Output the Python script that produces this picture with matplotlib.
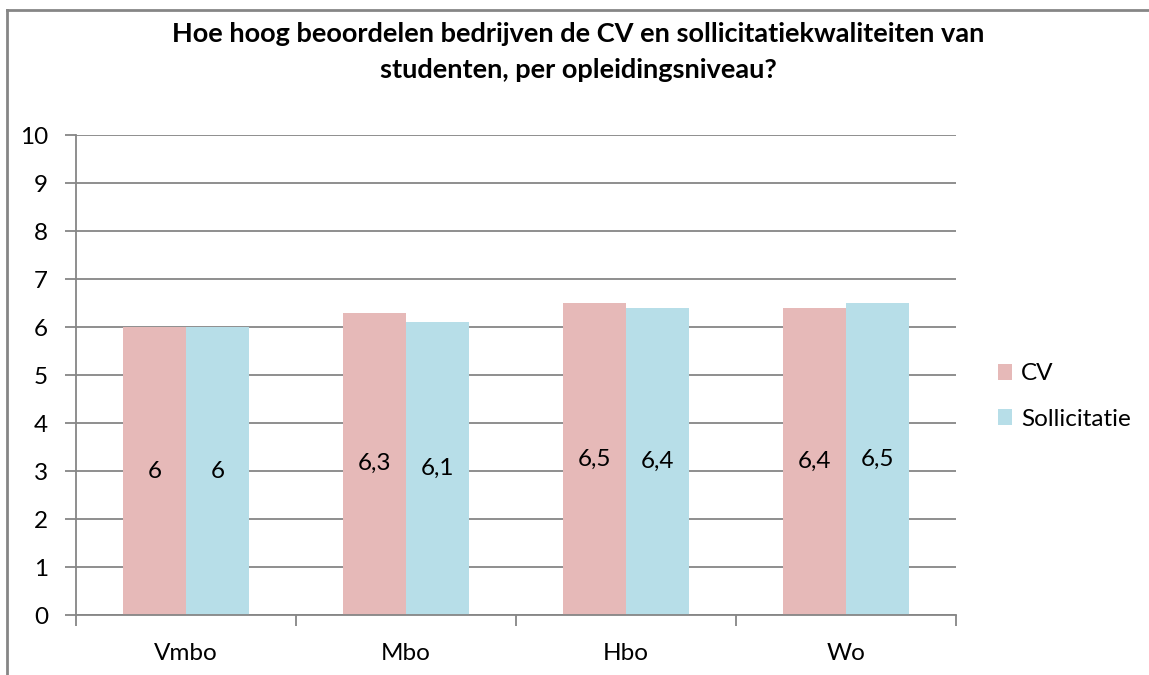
import numpy as np
import matplotlib
matplotlib.use("Agg")
import matplotlib.pyplot as plt
from matplotlib.lines import Line2D

categories = ["Vmbo", "Mbo", "Hbo", "Wo"]
cv = [6.0, 6.3, 6.5, 6.4]
sollicitatie = [6.0, 6.1, 6.4, 6.5]
series_names = ["CV", "Sollicitatie"]
title = "Hoe hoog beoordelen bedrijven de CV en sollicitatiekwaliteiten van\nstudenten, per opleidingsniveau?"

plt.rcParams['font.family'] = ['Lato', 'DejaVu Sans']

def fmt(v):
    s = ("%.1f" % v).rstrip("0").rstrip(".")
    return s.replace(".", ",")

def main():
    fig = plt.figure(figsize=(11.49, 6.75), dpi=100)
    ax = fig.add_axes([76 / 1149, 60 / 675, 880 / 1149, 480 / 675])

    # chart frame: only top and left edges are visible
    fy = 1 - 10 / 675
    fx = 7 / 1149
    fig.add_artist(Line2D([fx, 1.0], [fy, fy], transform=fig.transFigure,
                          color="#868686", linewidth=2))
    fig.add_artist(Line2D([fx, fx], [0.0, fy], transform=fig.transFigure,
                          color="#868686", linewidth=2))

    x = np.arange(len(categories))
    w = 0.286
    b1 = ax.bar(x - w / 2, cv, w, color="#E6B9B8", label=series_names[0], zorder=2)
    b2 = ax.bar(x + w / 2, sollicitatie, w, color="#B7DEE8", label=series_names[1], zorder=2)

    for bars, vals in ((b1, cv), (b2, sollicitatie)):
        for r, v in zip(bars, vals):
            ax.text(r.get_x() + r.get_width() / 2, v / 2, fmt(v), ha="center",
                    va="center", fontsize=17.5, color="black", zorder=3)

    ax.set_xlim(-0.5, len(categories) - 0.5)
    ax.set_ylim(0, 10)
    ax.set_yticks(range(0, 11))
    ax.yaxis.grid(True, color="#868686", linewidth=1.3, zorder=0)
    ax.set_axisbelow(True)

    ax.set_xticks(np.arange(-0.5, len(categories), 1.0))
    ax.set_xticklabels([])
    ax.set_xticks(x, minor=True)
    ax.set_xticklabels(categories, minor=True)
    ax.tick_params(axis="x", which="minor", length=0, pad=20, labelsize=17.5)
    ax.tick_params(axis="x", which="major", length=8, width=1.3, color="#868686", direction="out")
    ax.tick_params(axis="y", length=8, width=1.3, color="#868686", labelsize=17.5, pad=12)

    for s in ["top", "right"]:
        ax.spines[s].set_visible(False)
    for s in ["left", "bottom"]:
        ax.spines[s].set_color("#868686")
        ax.spines[s].set_linewidth(1.3)

    fig.text(578 / 1149, 1 - 52 / 675, title, ha="center", va="center",
             fontsize=19.5, fontweight="bold", linespacing=1.6)

    ax.legend(loc="center left", bbox_to_anchor=(1.0225, 0.455), frameon=False,
              fontsize=17.5, handlelength=0.6, handleheight=0.6,
              handletextpad=0.35, labelspacing=1.0)

    fig.savefig("out.png", dpi=100)

if __name__ == "__main__":
    main()
